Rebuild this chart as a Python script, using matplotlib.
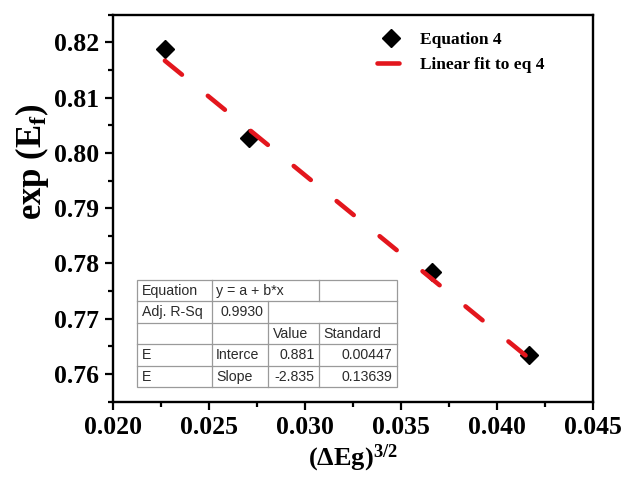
import numpy as np
import matplotlib
matplotlib.use("Agg")
import matplotlib.pyplot as plt
from matplotlib.ticker import MultipleLocator, FormatStrFormatter

# ---------------- data ----------------
x_vals = [0.02269, 0.02707, 0.03659, 0.04168]
y_vals = [0.8188, 0.8027, 0.7785, 0.7634]
series_label = "Equation 4"
fit_label = "Linear fit to eq 4"
fit_param_names = ["Interce", "Slope"]
fit_values = [0.881, -2.835]
fit_errors = [0.00447, 0.13639]
adj_r2 = 0.9930
equation_text = "y = a + b*x"
x_ticks = [0.020, 0.025, 0.030, 0.035, 0.040, 0.045]
y_ticks = [0.76, 0.77, 0.78, 0.79, 0.80, 0.81, 0.82]

plt.rcParams['mathtext.fontset'] = 'custom'
plt.rcParams['mathtext.rm'] = 'Liberation Serif'
plt.rcParams['mathtext.it'] = 'Liberation Serif:italic'
plt.rcParams['mathtext.bf'] = 'Liberation Serif:bold'

fig = plt.figure(figsize=(6.26, 4.79), dpi=100)
ax = fig.add_axes([0.181, 0.1614, 0.766, 0.8079])

serif = {'family': 'Liberation Serif', 'weight': 'bold'}

# markers
ax.plot(x_vals, y_vals, linestyle='none', marker='D', ms=9.5, color='black',
        label=series_label, zorder=3)

# fit line from table parameters
xf = np.array([x_vals[0], x_vals[-1]])
yf = fit_values[0] + fit_values[1] * xf
ax.plot(xf, yf, color='#e3161d', lw=3.3, linestyle=(0, (4.8, 7.3)),
        dash_capstyle='round', solid_capstyle='round', label=fit_label, zorder=4)

ax.set_xlim(0.020, 0.045)
ax.set_ylim(0.755, 0.825)
ax.set_xticks(x_ticks)
ax.set_yticks(y_ticks)
ax.xaxis.set_minor_locator(MultipleLocator(0.0025))
ax.yaxis.set_minor_locator(MultipleLocator(0.005))
ax.xaxis.set_major_formatter(FormatStrFormatter('%.3f'))
ax.yaxis.set_major_formatter(FormatStrFormatter('%.2f'))

for s in ax.spines.values():
    s.set_linewidth(1.7)
ax.tick_params(which='major', direction='out', length=6, width=1.6, pad=4)
ax.tick_params(which='minor', direction='out', length=3.5, width=1.6)
for lab in ax.get_xticklabels() + ax.get_yticklabels():
    lab.set_fontfamily('Liberation Serif')
    lab.set_fontweight('bold')
    lab.set_fontsize(18.5)

ax.set_ylabel(r'exp (E$_{\mathbf{f}}$)', fontsize=25, **serif)
ax.yaxis.set_label_coords(-0.13, 0.62)
ax.set_xlabel(r'$\mathbf{(\Delta Eg)^{3/2}}$', fontsize=19)
ax.xaxis.set_label_coords(0.5, -0.105)

leg = ax.legend(loc='upper left', bbox_to_anchor=(0.55, 0.955), frameon=False,
                borderaxespad=0, borderpad=0, handlelength=1.6, handletextpad=0.9,
                labelspacing=0.5, prop={'family': 'Liberation Serif', 'weight': 'bold', 'size': 12.5})

# ---------------- fit table ----------------
axw = 479.7
axh = 387.0
t_left = (137.5 - 113.3) / axw
t_right = (396.7 - 113.3) / axw
t_top = (401.7 - 280.0) / axh
t_bot = (401.7 - 387.5) / axh
col_w = np.array([74.2, 56.6, 51.0, 77.4])
col_edges = t_left + np.concatenate([[0], np.cumsum(col_w)]) / col_w.sum() * (t_right - t_left)
row_edges = np.linspace(t_top, t_bot, 6)
gray = '#9a9a9a'
lkw = dict(transform=ax.transAxes, color=gray, lw=0.9, clip_on=False, zorder=5)

ax.add_patch(plt.Rectangle((t_left, t_bot), t_right - t_left, t_top - t_bot,
                           transform=ax.transAxes, facecolor='white', edgecolor=gray,
                           lw=0.9, zorder=4.9))
for r in range(1, 5):
    ax.plot([t_left, t_right], [row_edges[r], row_edges[r]], **lkw)
# vertical separators: (column edge index, list of rows where present)
vsep = {1: [0, 1, 2, 3, 4], 2: [1, 2, 3, 4], 3: [0, 2, 3, 4]}
for ci, rows in vsep.items():
    for r in rows:
        ax.plot([col_edges[ci], col_edges[ci]], [row_edges[r], row_edges[r + 1]], **lkw)

padx = 4.5 / axw
tkw = dict(transform=ax.transAxes, fontsize=10.2, family='Liberation Sans',
           color='#2a2a2a', va='center', zorder=6)

def cell(r, c, s, ha='left'):
    yc = 0.5 * (row_edges[r] + row_edges[r + 1])
    if ha == 'left':
        ax.text(col_edges[c] + padx, yc, s, ha='left', **tkw)
    else:
        ax.text(col_edges[c + 1] - padx, yc, s, ha='right', **tkw)

cell(0, 0, "Equation")
cell(0, 1, equation_text)
cell(1, 0, "Adj. R-Sq")
cell(1, 1, f"{adj_r2:.4f}", ha='right')
cell(2, 2, "Value")
cell(2, 3, "Standard")
for i, (nm, v, e) in enumerate(zip(fit_param_names, fit_values, fit_errors)):
    cell(3 + i, 0, "E")
    cell(3 + i, 1, nm)
    cell(3 + i, 2, f"{v:.3f}", ha='right')
    cell(3 + i, 3, f"{e:.5f}", ha='right')

fig.savefig('out.png', dpi=100)
